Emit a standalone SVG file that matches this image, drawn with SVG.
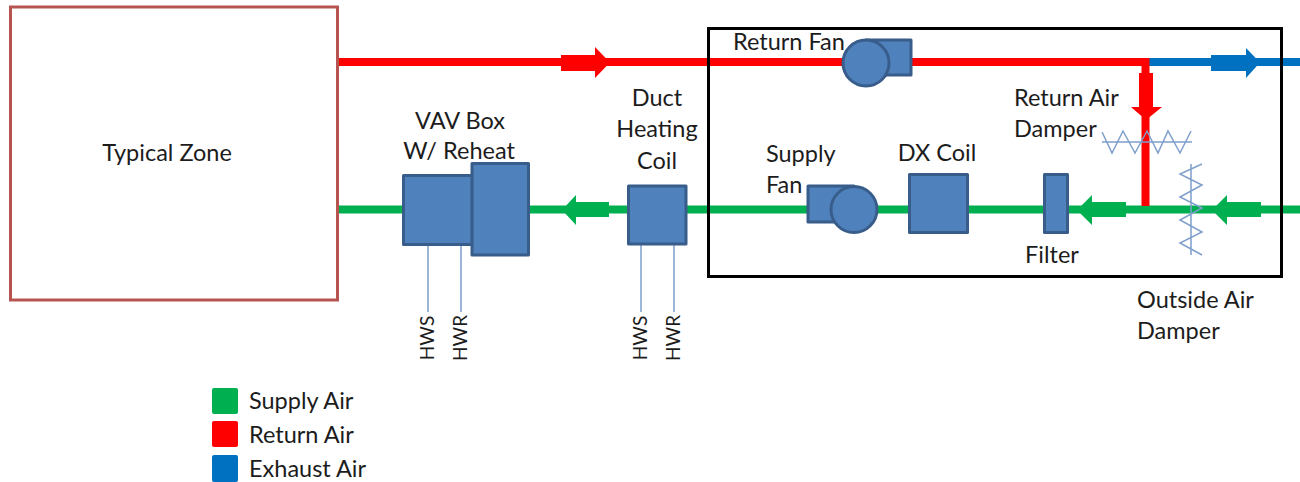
<svg xmlns="http://www.w3.org/2000/svg" width="1300" height="482" viewBox="0 0 1300 482">
<style>
text{font-family:"Lato","Carlito","Open Sans",sans-serif;font-size:23.500px;fill:#1c1c1c}
.c{text-anchor:middle}
.hw{font-size:19px;text-anchor:middle}
.eq{fill:#4f81bd;stroke:#385d8a;stroke-width:3;stroke-linejoin:round}
.duct{fill:none;stroke-width:8}
.thin{fill:none;stroke:#7f9fcb;stroke-width:1.500}
.g{fill:#00b050}.r{fill:#ff0000}.b{fill:#0070c0}
</style>
<rect width="1300" height="482" fill="#fff"/>
<g id="connectors">
<path class="duct" stroke="#0070c0" d="M1145 62H1300"/>
<path class="duct" stroke="#ff0000" d="M338 62H1145"/>
<path class="duct" stroke="#00b050" d="M338 209.500H1300"/>
<path class="duct" stroke="#ff0000" d="M1145.500 58V206"/>
<path class="r" d="M561 55H595V47L610 62.500L595 78V71H561Z"/>
<path class="b" d="M1211 55H1246V48L1260 62.500L1246 78V71H1211Z"/>
<path class="r" d="M1139 73H1153V107H1162L1146 120L1131 107H1139Z"/>
<path class="g" d="M609 202H576V195L562 210L576 225V217H609Z"/>
<path class="g" d="M1126 202H1092V195L1077 210L1092 225V217H1126Z"/>
<path class="g" d="M1261 202H1227V195L1212 210L1227 225V217H1261Z"/>
<path class="thin" d="M428 244V312M461 244V312M641 244V312M674 244V312"/>
</g>
<g id="zone"><rect x="10.500" y="7" width="327" height="293" fill="#fff" stroke="#b85450" stroke-width="3"/><text class="c" x="167" y="161">Typical Zone</text></g>
<g id="ahu-box"><rect x="708.500" y="28.500" width="573" height="248" fill="none" stroke="#000" stroke-width="3"/></g>
<g id="return-fan"><rect class="eq" x="866" y="40" width="45" height="35"/><circle class="eq" cx="866" cy="63" r="23"/><text x="733" y="50">Return Fan</text></g>
<g id="supply-fan"><rect class="eq" x="808" y="186" width="46" height="36"/><circle class="eq" cx="854" cy="209.500" r="23"/><text x="766" y="162">Supply</text><text x="766" y="193">Fan</text></g>
<g id="dx-coil"><rect class="eq" x="909.500" y="174.500" width="58" height="58"/><text class="c" x="937" y="161">DX Coil</text></g>
<g id="filter"><rect class="eq" x="1044.500" y="174.500" width="23" height="58"/><text class="c" x="1052" y="263">Filter</text></g>
<g id="vav-box"><rect class="eq" x="403.500" y="175.500" width="70" height="69"/><rect class="eq" x="472" y="163.500" width="56.500" height="91.500"/><text class="c" x="460" y="129">VAV Box</text><text class="c" x="459" y="159">W/ Reheat</text></g>
<g id="duct-coil"><rect class="eq" x="628.500" y="186" width="57.500" height="58"/><text class="c" x="657" y="106">Duct</text><text class="c" x="657" y="137">Heating</text><text class="c" x="657" y="169">Coil</text></g>
<g id="return-damper"><path class="thin" d="M1102 142H1192M1102 132L1112 153L1123 131L1135 153L1147 131L1158 153L1168 131L1180 153L1191 131"/><text x="1014" y="106">Return Air</text><text x="1014" y="137">Damper</text></g>
<g id="outside-damper"><path class="thin" d="M1191 164V255M1202 164L1180 174L1202 185L1180 197L1202 208L1180 220L1202 232L1180 243L1202 255"/><text x="1137" y="308">Outside Air</text><text x="1137" y="339">Damper</text></g>
<g id="hw-labels">
<text class="hw" transform="translate(434 338) rotate(-90)">HWS</text>
<text class="hw" transform="translate(467 338) rotate(-90)">HWR</text>
<text class="hw" transform="translate(647 338) rotate(-90)">HWS</text>
<text class="hw" transform="translate(680 338) rotate(-90)">HWR</text>
</g>
<g id="legend">
<rect class="g" x="212" y="388" width="26" height="26" rx="2"/><text x="249" y="409">Supply Air</text>
<rect class="r" x="212" y="421" width="26" height="26" rx="2"/><text x="249" y="443">Return Air</text>
<rect class="b" x="212" y="455" width="26" height="27" rx="2"/><text x="249" y="477">Exhaust Air</text>
</g>
</svg>
